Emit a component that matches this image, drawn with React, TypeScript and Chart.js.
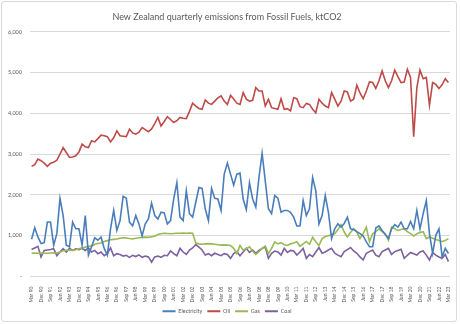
import React, { useEffect, useRef } from "react";
import { Chart, registerables } from "chart.js";

Chart.register(...registerables);

const titleText = "New Zealand quarterly emissions from Fossil Fuels, ktCO2";
const quarterNames = ["Mar", "Jun", "Sep", "Dec"];
const startYear = 1990;
const endYear = 2023;

const categories: string[] = [];
for (let y = startYear; y <= endYear; y++) {
  for (let q = 0; q < 4; q++) {
    if (y === endYear && q > 0) break;
    categories.push(`${quarterNames[q]} ${String(y % 100).padStart(2, "0")}`);
  }
}

const electricity = [
  913, 1197, 970, 808, 830, 1335, 1335, 768, 1050, 1917,
  1495, 768, 730, 1335, 1170, 1170, 768, 1495, 525, 730,
  950, 890, 970, 690, 525, 1170, 1620, 1130, 1370, 1965,
  1917, 1335, 1240, 1495, 1290, 995, 1290, 1410, 1800, 1495,
  1410, 1575, 1560, 1290, 1370, 1900, 2300, 1455, 1370, 2100,
  1540, 1455, 1820, 2180, 2160, 1660, 1370, 2160, 1917, 1900,
  1620, 2510, 2780, 2510, 2240, 2510, 2535, 1900, 1640, 2300,
  1900, 1700, 2425, 3020, 2345, 1660, 1540, 1985, 1920, 1575,
  1620, 1620, 1575, 1455, 1240, 1240, 1860, 1495, 1660, 2425,
  2100, 1290, 1495, 1985, 1575, 930, 1170, 1290, 1210, 1300,
  1455, 1170, 1150, 1100, 1050, 995, 850, 730, 730, 1190,
  1240, 1130, 1030, 930, 1170, 1270, 1210, 1335, 1170, 1170,
  1350, 1170, 1620, 1170, 1540, 1860, 1050, 565, 1010, 1170,
  480, 690, 565,
];

const oil = [
  2700, 2740, 2880, 2840, 2780, 2700, 2780, 2800, 2850, 3000,
  3160, 3040, 2920, 2930, 2960, 3050, 3245, 3180, 3160, 3330,
  3300, 3380, 3465, 3450, 3430, 3300, 3400, 3570, 3450, 3440,
  3430, 3610, 3520, 3490, 3540, 3650, 3600, 3550, 3620, 3750,
  3900, 3690, 3800, 3920, 3850, 3775, 3820, 3900, 3880, 3870,
  4050, 4250, 4180, 4120, 4100, 4330, 4250, 4220, 4300, 4380,
  4430, 4300, 4220, 4440, 4350, 4250, 4220, 4510, 4350, 4300,
  4320, 4630, 4550, 4550, 4180, 4345, 4140, 4120, 4100, 4360,
  4100, 4115, 4060, 4385, 4360, 4165, 4140, 4245, 4220, 4100,
  4015, 4345, 4250, 4180, 4140, 4510, 4350, 4180, 4300, 4550,
  4525, 4300, 4345, 4690, 4500, 4360, 4550, 4770, 4755, 4610,
  4800, 5040, 4800, 4630, 4800, 5060, 4900, 4755, 4770, 5080,
  4880, 3430, 4630, 5060, 4850, 4880, 4200, 4755, 4710, 4610,
  4700, 4850, 4755,
];

const gas = [
  570, 575, 570, 575, 570, 570, 575, 580, 575, 600,
  630, 640, 650, 640, 655, 680, 700, 720, 740, 745,
  790, 810, 820, 860, 880, 900, 910, 920, 940, 950,
  945, 930, 920, 940, 950, 960, 965, 960, 975, 990,
  1030, 1050, 1060, 1055, 1050, 1055, 1060, 1060, 1065, 1060,
  1065, 1060, 820, 800, 790, 800, 805, 800, 790, 780,
  770, 775, 770, 760, 690, 560, 760, 650, 680, 730,
  620, 540, 610, 690, 750, 560, 690, 850, 800, 830,
  780, 760, 800, 820, 850, 740, 800, 860, 790, 960,
  850, 760, 930, 980, 1000, 1030, 1050, 1150, 1270, 1090,
  970, 1080, 1170, 1090, 930, 1050, 1210, 850, 1050, 1100,
  1170, 1100, 1050, 890, 1210, 1170, 1130, 1150, 1170, 1100,
  1050, 995, 1050, 1080, 1100, 930, 970, 940, 910, 880,
  860, 880, 930,
];

const coal = [
  660, 700, 740, 480, 640, 650, 660, 680, 510, 600,
  680, 600, 690, 640, 680, 660, 690, 640, 700, 600,
  640, 560, 600, 510, 560, 700, 510, 560, 540, 500,
  520, 470, 520, 490, 530, 470, 500, 480, 350, 480,
  500, 470, 520, 510, 625, 560, 510, 690, 600, 540,
  650, 700, 780, 720, 650, 525, 560, 510, 570, 540,
  510, 560, 540, 445, 560, 610, 510, 600, 690, 590,
  650, 570, 640, 690, 720, 445, 570, 625, 600, 525,
  690, 590, 640, 625, 525, 600, 690, 445, 540, 485,
  600, 710, 570, 600, 650, 690, 570, 525, 485, 610,
  660, 710, 625, 570, 480, 405, 570, 610, 650, 525,
  485, 610, 650, 690, 540, 610, 640, 670, 445, 520,
  590, 560, 525, 600, 625, 525, 405, 590, 525, 480,
  445, 540, 365,
];

const seriesNames = ["Electricity", "Oil", "Gas", "Coal"];
const seriesColors = ["#4A7EBB", "#BE4B48", "#98B954", "#7D60A0"];
const seriesValues = [electricity, oil, gas, coal];

const yMin = 0;
const yMax = 6000;
const yStep = 1000;
const labelEvery = 3;

export default function App() {
  const canvasRef = useRef<HTMLCanvasElement | null>(null);

  useEffect(() => {
    if (!canvasRef.current) return;
    const font = "Lato, 'Open Sans', sans-serif";
    const chart = new Chart(canvasRef.current, {
      type: "line",
      data: {
        labels: categories,
        datasets: seriesNames.map((name, i) => ({
          label: name,
          data: seriesValues[i],
          borderColor: seriesColors[i],
          backgroundColor: seriesColors[i],
          borderWidth: 1.6,
          pointRadius: 0,
          tension: 0,
          fill: false,
        })),
      },
      options: {
        animation: false,
        responsive: false,
        devicePixelRatio: 1,
        layout: { padding: { left: 4, right: 10, top: 8, bottom: 0 } },
        plugins: {
          title: {
            display: true,
            text: titleText,
            color: "#595959",
            font: { family: font, size: 9, weight: "normal" },
            padding: { top: 4, bottom: 9 },
          },
          legend: {
            position: "bottom",
            labels: {
              boxWidth: 13,
              boxHeight: 2,
              color: "#595959",
              font: { family: font, size: 5.5 },
              padding: 5,
              generateLabels: (c: any) =>
                Chart.defaults.plugins.legend.labels
                  .generateLabels(c)
                  .map((l: any) => ({ ...l, lineWidth: 0 })),
            },
          },
          tooltip: { enabled: false },
        },
        scales: {
          x: {
            type: "category",
            offset: true,
            grid: { display: false },
            border: { display: false },
            ticks: {
              autoSkip: false,
              maxRotation: 90,
              minRotation: 90,
              color: "#595959",
              padding: 2,
              font: { family: font, size: 5 },
              callback: (_v: any, i: number) =>
                i % labelEvery === 0 ? categories[i] : null,
            },
            afterFit: (s: any) => {
              s.height = 27;
            },
          },
          y: {
            min: yMin,
            max: yMax,
            grid: { color: "#d9d9d9", drawTicks: false },
            border: { display: false },
            ticks: {
              stepSize: yStep,
              color: "#595959",
              padding: 8,
              font: { family: font, size: 5.5 },
              callback: (v: any) =>
                Number(v) === 0 ? "-" : Number(v).toLocaleString("en-US"),
            },
            afterFit: (s: any) => {
              s.width = 26;
            },
          },
        },
      },
    } as any);
    return () => chart.destroy();
  }, []);

  return (
    <div
      style={{
        position: "absolute",
        left: 0,
        top: 0,
        width: 460,
        height: 324,
        background: "#ffffff",
      }}
    >
      <div
        style={{
          position: "absolute",
          left: 1,
          top: 1,
          width: 456,
          height: 321,
          border: "1px solid #d9d9d9",
          borderRadius: 3,
          boxSizing: "border-box",
        }}
      />
      <canvas
        ref={canvasRef}
        width={460}
        height={324}
        style={{ position: "absolute", left: 0, top: 0 }}
      />
    </div>
  );
}
